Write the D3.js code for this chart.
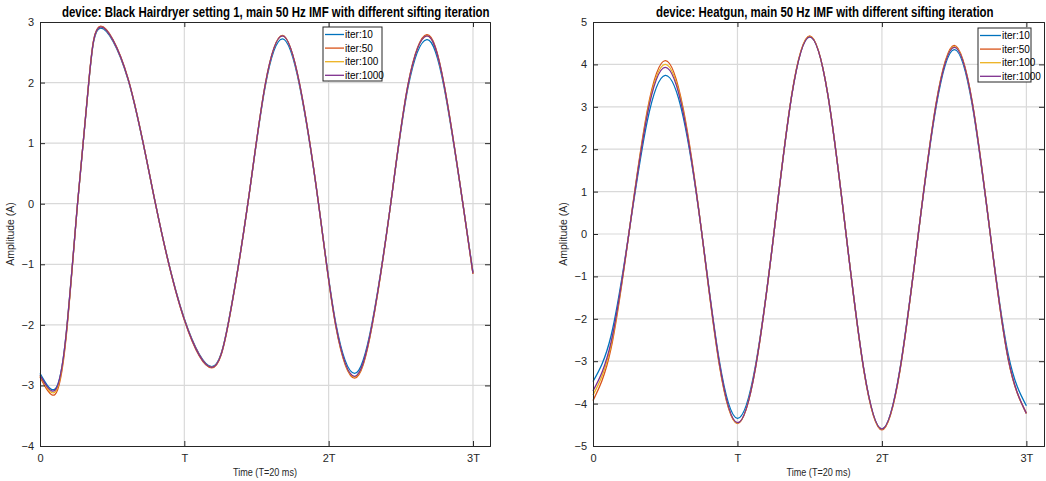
<!DOCTYPE html>
<html><head><meta charset="utf-8">
<script src="https://cdn.jsdelivr.net/npm/d3@7"></script>
<style>
html,body{margin:0;padding:0;background:#fff;}
svg{display:block;font-family:"Liberation Sans",Arial,sans-serif;}
</style></head>
<body>
<svg id="chart" width="1046" height="481"></svg>
<script>
// ---------- data ----------
const seriesNames = ["iter:10", "iter:50", "iter:100", "iter:1000"];
const seriesColors = ["#0072BD", "#D95319", "#EDB120", "#7E2F8E"];
const timeTicks = [0, 1, 2, 3];
const timeTickLabels = ["0", "T", "2T", "3T"];

// Panel 1: Black Hairdryer setting 1 (time in units of T)
const hairTime = [0, 0.104, 0.18, 0.26, 0.34, 0.42, 0.61, 0.80, 1.0, 1.19, 1.31, 1.44, 1.56, 1.68, 1.80, 1.93, 2.05, 2.18, 2.30, 2.43, 2.55, 2.68, 2.80, 2.93, 3.0];
const hairIter10   = [-2.80, -3.06, -2.18, 0, 2.05, 2.90, 2.05, 0, -1.90, -2.69, -1.90, 0, 1.93, 2.72, 1.93, 0, -1.98, -2.80, -1.98, 0, 1.92, 2.71, 1.92, 0, -1.13];
const hairIter50   = [-2.86, -3.15, -2.23, 0, 2.07, 2.93, 2.07, 0, -1.92, -2.71, -1.92, 0, 1.96, 2.78, 1.96, 0, -2.03, -2.88, -2.03, 0, 1.97, 2.79, 1.97, 0, -1.16];
const hairIter100  = [-2.84, -3.11, -2.20, 0, 2.06, 2.92, 2.06, 0, -1.91, -2.70, -1.91, 0, 1.96, 2.77, 1.96, 0, -2.02, -2.86, -2.02, 0, 1.96, 2.77, 1.96, 0, -1.15];
const hairIter1000 = [-2.83, -3.08, -2.18, 0, 2.06, 2.92, 2.06, 0, -1.91, -2.70, -1.91, 0, 1.96, 2.77, 1.96, 0, -2.01, -2.85, -2.01, 0, 1.96, 2.77, 1.96, 0, -1.15];
const hairYTicks = [-4, -3, -2, -1, 0, 1, 2, 3];

// Panel 2: Heatgun
const heatTime = [0, 0.125, 0.25, 0.375, 0.5, 0.625, 0.75, 0.875, 1, 1.125, 1.25, 1.375, 1.5, 1.625, 1.75, 1.875, 2, 2.125, 2.25, 2.375, 2.5, 2.625, 2.75, 2.875, 3];
const heatIter10   = [-3.48, -2.40, 0.05, 2.65, 3.74, 2.75, 0.10, -3.00, -4.35, -3.10, -0.05, 3.25, 4.65, 3.30, 0.05, -3.20, -4.60, -3.18, -0.05, 3.00, 4.35, 3.05, 0.0, -2.85, -4.05];
const heatIter50   = [-3.93, -2.70, 0.05, 2.90, 4.09, 2.95, 0.10, -3.10, -4.47, -3.16, -0.05, 3.27, 4.67, 3.30, 0.05, -3.22, -4.62, -3.22, -0.05, 3.08, 4.45, 3.12, 0.0, -2.97, -4.23];
const heatIter100  = [-3.80, -2.62, 0.05, 2.85, 4.00, 2.90, 0.10, -3.08, -4.46, -3.15, -0.05, 3.26, 4.66, 3.30, 0.05, -3.21, -4.61, -3.21, -0.05, 3.07, 4.42, 3.11, 0.0, -2.96, -4.23];
const heatIter1000 = [-3.70, -2.55, 0.05, 2.80, 3.93, 2.85, 0.10, -3.05, -4.45, -3.15, -0.05, 3.25, 4.65, 3.30, 0.05, -3.20, -4.60, -3.20, -0.05, 3.05, 4.40, 3.10, 0.0, -2.95, -4.23];
const heatYTicks = [-5, -4, -3, -2, -1, 0, 1, 2, 3, 4, 5];

const panels = [
  { title: "device: Black Hairdryer setting 1, main 50 Hz IMF with different sifting iteration",
    titleX: 62, titleW: 428,
    left: 40, right: 490, top: 22, bottom: 446, xMax: 3.118, yDomain: [-4, 3], yTicks: hairYTicks,
    time: hairTime, series: [hairIter10, hairIter50, hairIter100, hairIter1000],
    legend: { x: 323, y: 27, w: 59, h: 54, lineW: 19 }, ylabelX: 14 },
  { title: "device: Heatgun, main 50 Hz IMF with different sifting iteration",
    titleX: 656, titleW: 338,
    left: 593, right: 1044, top: 22, bottom: 446, xMax: 3.122, yDomain: [-5, 5], yTicks: heatYTicks,
    time: heatTime, series: [heatIter10, heatIter50, heatIter100, heatIter1000],
    legend: { x: 978, y: 28, w: 53, h: 54, lineW: 21 }, ylabelX: 567 }
];

// ---------- drawing ----------
const svg = d3.select("#chart");
const axisColor = "#262626";
const gridColor = "#d9d9d9";

panels.forEach(p => {
  const x = d3.scaleLinear().domain([0, p.xMax]).range([p.left, p.right]);
  const y = d3.scaleLinear().domain(p.yDomain).range([p.bottom, p.top]);
  const g = svg.append("g");

  // grid
  g.append("g").selectAll("line").data(p.yTicks.slice(1, -1)).join("line")
    .attr("x1", p.left).attr("x2", p.right)
    .attr("y1", d => y(d)).attr("y2", d => y(d))
    .attr("stroke", gridColor).attr("stroke-width", 1.2);
  g.append("g").selectAll("line").data(timeTicks.slice(1)).join("line")
    .attr("x1", d => x(d)).attr("x2", d => x(d))
    .attr("y1", p.top).attr("y2", p.bottom)
    .attr("stroke", gridColor).attr("stroke-width", 1.2);

  // lines
  const line = d3.line().x((d, i) => x(p.time[i])).y(d => y(d)).curve(d3.curveNatural);
  p.series.forEach((s, k) => {
    g.append("path").datum(s).attr("d", line)
      .attr("fill", "none").attr("stroke", seriesColors[k]).attr("stroke-width", 1.3);
  });

  // axes (MATLAB style: box with inward ticks)
  const yAxisL = d3.axisLeft(y).tickValues(p.yTicks).tickSize(-5).tickPadding(6).tickFormat(d3.format("d"));
  const yAxisR = d3.axisRight(y).tickValues(p.yTicks).tickSize(-5).tickFormat("");
  const xAxisB = d3.axisBottom(x).tickValues(timeTicks).tickSize(-5).tickPadding(8).tickFormat((d, i) => timeTickLabels[i]);
  const xAxisT = d3.axisTop(x).tickValues(timeTicks).tickSize(-5).tickFormat("");
  const axes = [
    g.append("g").attr("transform", `translate(${p.left},0)`).call(yAxisL),
    g.append("g").attr("transform", `translate(${p.right},0)`).call(yAxisR),
    g.append("g").attr("transform", `translate(0,${p.bottom})`).call(xAxisB),
    g.append("g").attr("transform", `translate(0,${p.top})`).call(xAxisT)
  ];
  axes.forEach(a => {
    a.select(".domain").attr("stroke", axisColor).attr("stroke-width", 1);
    a.selectAll(".tick line").attr("stroke", axisColor);
    a.selectAll(".tick text").attr("fill", axisColor).attr("font-size", 11)
      .attr("font-family", "'Liberation Sans', Arial, sans-serif");
  });

  // title (condensed horizontally to match the reference width)
  const tt = svg.append("text").attr("x", 0).attr("y", 0)
    .attr("font-size", 14).attr("font-weight", "bold").attr("fill", "#000")
    .text(p.title);
  const natW = tt.node().getComputedTextLength();
  tt.attr("transform", `translate(${p.titleX},16.5) scale(${p.titleW / natW},1)`);

  // x label
  svg.append("text").attr("x", (p.left + p.right) / 2).attr("y", 476)
    .attr("text-anchor", "middle").attr("font-size", 10.5).attr("fill", axisColor)
    .attr("textLength", 64).attr("lengthAdjust", "spacingAndGlyphs")
    .text("Time (T=20 ms)");

  // y label
  svg.append("text")
    .attr("transform", `translate(${p.ylabelX},${(p.top + p.bottom) / 2}) rotate(-90)`)
    .attr("text-anchor", "middle").attr("font-size", 10.5).attr("fill", axisColor)
    .text("Amplitude (A)");

  // legend
  const L = p.legend;
  const lg = svg.append("g").attr("transform", `translate(${L.x},${L.y})`);
  lg.append("rect").attr("width", L.w).attr("height", L.h)
    .attr("fill", "#fff").attr("stroke", axisColor).attr("stroke-width", 1);
  seriesNames.forEach((n, k) => {
    const yy = 7.5 + k * 13.6;
    lg.append("line").attr("x1", 2).attr("x2", 2 + L.lineW).attr("y1", yy).attr("y2", yy)
      .attr("stroke", seriesColors[k]).attr("stroke-width", 1.3);
    lg.append("text").attr("x", L.lineW + 3).attr("y", yy).attr("dy", "0.35em")
      .attr("font-size", 10).attr("fill", "#000").text(n);
  });
});
</script>
</body></html>
